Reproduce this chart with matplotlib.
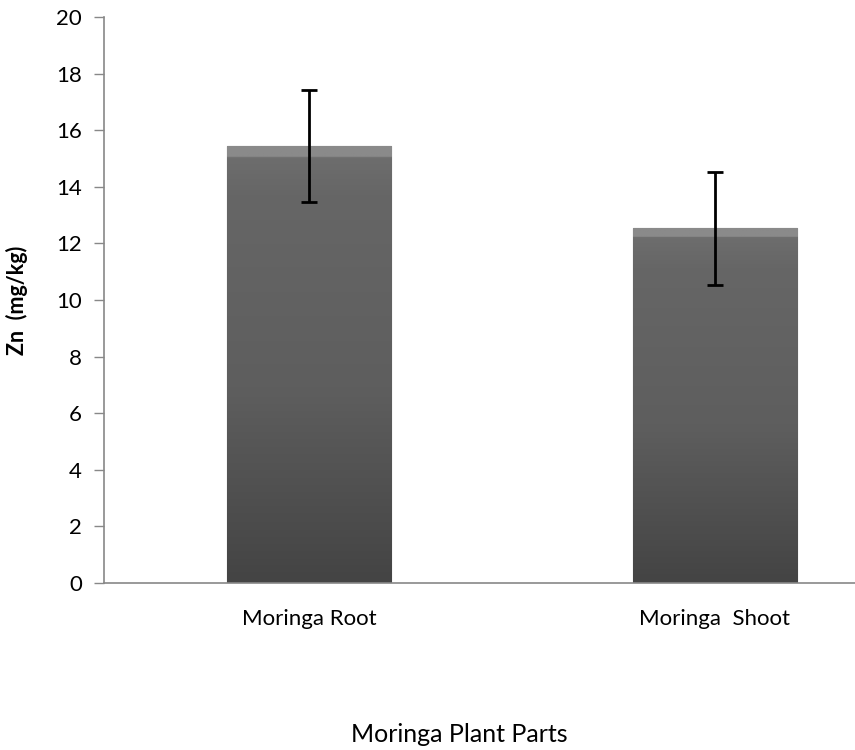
import matplotlib
matplotlib.use("Agg")
import matplotlib.pyplot as plt
import numpy as np
from matplotlib.colors import LinearSegmentedColormap

categories = ["Moringa Root", "Moringa  Shoot"]
values = [15.44, 12.54]
errors = [1.99, 2.0]
yticks = [0, 2, 4, 6, 8, 10, 12, 14, 16, 18, 20]

plt.rcParams['font.family'] = ['Lato', 'DejaVu Sans']

fig = plt.figure(figsize=(8.55, 7.5), dpi=100)
ax = fig.add_axes([104/855, 167/750, 1 - 104/855, 566/750])

x = np.arange(len(categories))
width = 0.404
bars = ax.bar(x, values, width=width, color="#5a5a5a", edgecolor="#4a4a4a", linewidth=0.8, zorder=2)

cmap = LinearSegmentedColormap.from_list("g", ["#444444", "#5e5e5e", "#666666", "#8a8a8a"])
for b in bars:
    bx, by = b.get_x(), b.get_y()
    bw, bh = b.get_width(), b.get_height()
    grad = np.linspace(0, 1, 200).reshape(-1, 1)
    grad = np.where(grad > 0.975, 1.0, grad * 0.75)
    im = ax.imshow(grad, extent=[bx, bx + bw, by, by + bh], origin="lower",
                   cmap=cmap, aspect="auto", zorder=2, vmin=0, vmax=1)
    im.set_clip_path(b)

ax.errorbar(x, values, yerr=errors, fmt="none", ecolor="black", elinewidth=2,
            capsize=6, capthick=2, zorder=3)

ax.set_xlim(-0.505, 1.345)
ax.set_ylim(0, 20)
ax.set_yticks(yticks)
ax.set_yticklabels([str(t) for t in yticks], fontsize=16)
ax.set_xticks(x)
ax.set_xticklabels(categories, fontsize=16)
ax.tick_params(axis="x", length=0, pad=19)
ax.tick_params(axis="y", length=7, color="#888888", width=1, pad=9)

for s in ["top", "right"]:
    ax.spines[s].set_visible(False)
for s in ["left", "bottom"]:
    ax.spines[s].set_color("#888888")
    ax.spines[s].set_linewidth(1.2)

ax.set_ylabel("Zn  (mg/kg)", fontsize=15.5, fontweight="bold", labelpad=20)
fig.text(459/855, 1 - 735/750, "Moringa Plant Parts", ha="center", va="center", fontsize=18)

fig.savefig("out.png", dpi=100)
